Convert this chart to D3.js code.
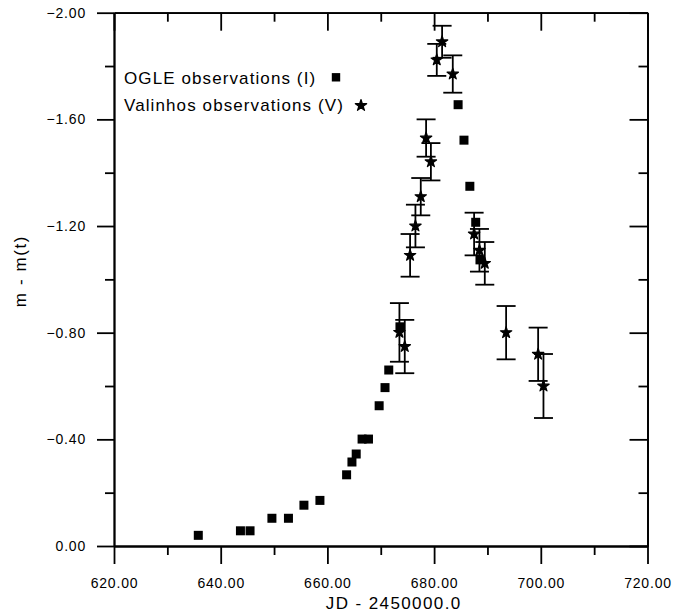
<!DOCTYPE html>
<html>
<head>
<meta charset="utf-8">
<script src="https://cdn.jsdelivr.net/npm/d3@7"></script>
<style>
  body { margin: 0; background: #fff; }
  svg { display: block; }
  text { font-family: "Liberation Sans", Arial, sans-serif; fill: #000; }
</style>
</head>
<body>
<svg id="chart" width="673" height="613"></svg>
<script>
// OGLE photometry (I band): JD - 2450000 and magnitude relative to baseline
const ogleJD  = [635.8, 643.7, 645.5, 649.6, 652.7, 655.6, 658.6, 663.6, 664.6, 665.4, 666.5,
                 667.7, 669.7, 670.8, 671.5, 673.6, 684.5, 685.6, 686.7, 687.8, 688.6];
const ogleMag = [-0.040, -0.057, -0.057, -0.104, -0.104, -0.153, -0.171, -0.267, -0.315, -0.345, -0.401,
                 -0.401, -0.526, -0.594, -0.660, -0.822, -1.655, -1.522, -1.349, -1.214, -1.073];

// Valinhos photometry (V band) with 1-sigma uncertainties
const valJD  = [673.5, 674.5, 675.5, 676.5, 677.5, 678.5, 679.4, 680.5, 681.5, 683.5,
                687.5, 688.5, 689.5, 693.5, 699.5, 700.5];
const valMag = [-0.801, -0.748, -1.090, -1.200, -1.310, -1.530, -1.441, -1.823, -1.891, -1.770,
                -1.170, -1.109, -1.060, -0.800, -0.719, -0.600];
const valErr = [0.11, 0.10, 0.08, 0.08, 0.07, 0.07, 0.07, 0.06, 0.06, 0.07,
                0.08, 0.08, 0.08, 0.10, 0.10, 0.12];

// Tick positions
const xMajor = [620, 640, 660, 680, 700, 720];
const xMinor = [630, 650, 670, 690, 710];
const yMajor = [0, -0.4, -0.8, -1.2, -1.6, -2.0];
const yMinor = [-0.2, -0.6, -1.0, -1.4, -1.8];

const legendLabels = ["OGLE observations (I)", "Valinhos observations (V)"];
const xTitle = "JD - 2450000.0";
const yTitle = "m - m(t)";

const svg = d3.select("#chart");
svg.append("rect").attr("width", 673).attr("height", 613).attr("fill", "#fff");

const plotL = 114, plotR = 647.5, plotT = 12.7, plotB = 546;
const x = d3.scaleLinear().domain([620, 720]).range([plotL, plotR]);
const y = d3.scaleLinear().domain([0, -2]).range([plotB, plotT]);

const fmt = d3.format(".2f");
const SW = 1.8;

function styleAxis(g) {
  g.selectAll("path.domain").attr("stroke", "#000").attr("stroke-width", SW);
  g.selectAll(".tick line").attr("stroke", "#000").attr("stroke-width", SW);
  g.selectAll(".tick text")
    .style("font-family", '"Liberation Sans", Arial, sans-serif')
    .style("font-size", "14px")
    .style("letter-spacing", "0.8px")
    .attr("fill", "#000");
}

// Bottom axis: outward ticks with labels
svg.append("g").attr("transform", `translate(0,${plotB})`)
  .call(d3.axisBottom(x).tickValues(xMajor).tickSize(18).tickSizeOuter(0).tickPadding(14).tickFormat(fmt))
  .call(styleAxis);
svg.append("g").attr("transform", `translate(0,${plotB})`)
  .call(d3.axisBottom(x).tickValues(xMinor).tickSize(9).tickSizeOuter(0).tickFormat(""))
  .call(styleAxis);

// Left axis: outward ticks with labels
svg.append("g").attr("transform", `translate(${plotL},0)`)
  .call(d3.axisLeft(y).tickValues(yMajor).tickSize(17).tickSizeOuter(0).tickPadding(11).tickFormat(fmt))
  .call(styleAxis);
svg.append("g").attr("transform", `translate(${plotL},0)`)
  .call(d3.axisLeft(y).tickValues(yMinor).tickSize(9).tickSizeOuter(0).tickFormat(""))
  .call(styleAxis);

// Top axis: inward ticks, no labels
svg.append("g").attr("transform", `translate(0,${plotT})`)
  .call(d3.axisBottom(x).tickValues(xMajor).tickSize(18).tickSizeOuter(0).tickFormat(""))
  .call(styleAxis);
svg.append("g").attr("transform", `translate(0,${plotT})`)
  .call(d3.axisBottom(x).tickValues(xMinor).tickSize(9).tickSizeOuter(0).tickFormat(""))
  .call(styleAxis);

// Right axis: inward ticks, no labels
svg.append("g").attr("transform", `translate(${plotR},0)`)
  .call(d3.axisLeft(y).tickValues(yMajor).tickSize(18).tickSizeOuter(0).tickFormat(""))
  .call(styleAxis);
svg.append("g").attr("transform", `translate(${plotR},0)`)
  .call(d3.axisLeft(y).tickValues(yMinor).tickSize(9).tickSizeOuter(0).tickFormat(""))
  .call(styleAxis);

// Axis titles
svg.append("text")
  .attr("x", (plotL + plotR) / 2 + 13).attr("y", 609)
  .attr("text-anchor", "middle")
  .style("font-size", "17px").style("letter-spacing", "1.4px")
  .text(xTitle);
svg.append("text")
  .attr("transform", "translate(26,271) rotate(-90)")
  .attr("text-anchor", "middle")
  .style("font-size", "17px").style("letter-spacing", "1.6px")
  .text(yTitle);

// Valinhos error bars
const CAP = 9.5;
const valData = valJD.map((d, i) => ({ jd: d, mag: valMag[i], err: valErr[i] }));
const eb = svg.append("g").attr("stroke", "#000").attr("stroke-width", SW).attr("fill", "none");
valData.forEach(d => {
  const cx = x(d.jd), y1 = y(d.mag - d.err), y2 = y(d.mag + d.err);
  eb.append("line").attr("x1", cx).attr("x2", cx).attr("y1", y1).attr("y2", y2);
  eb.append("line").attr("x1", cx - CAP).attr("x2", cx + CAP).attr("y1", y1).attr("y2", y1);
  eb.append("line").attr("x1", cx - CAP).attr("x2", cx + CAP).attr("y1", y2).attr("y2", y2);
});

// OGLE squares
const SQ = 9;
svg.append("g").selectAll("rect")
  .data(ogleJD.map((d, i) => ({ jd: d, mag: ogleMag[i] })))
  .join("rect")
  .attr("x", d => x(d.jd) - SQ / 2).attr("y", d => y(d.mag) - SQ / 2)
  .attr("width", SQ).attr("height", SQ).attr("fill", "#000");

// Valinhos stars (slightly stroked so they read as bold filled stars)
const star = d3.symbol().type(d3.symbolStar).size(40);
svg.append("g").selectAll("path")
  .data(valData)
  .join("path")
  .attr("transform", d => `translate(${x(d.jd)},${y(d.mag)})`)
  .attr("d", star).attr("fill", "#000")
  .attr("stroke", "#000").attr("stroke-width", 1.2).attr("stroke-linejoin", "round");

// Legend
const lg = svg.append("g").style("font-size", "17px").style("letter-spacing", "1.1px");
lg.append("text").attr("x", 124).attr("y", 83.5).text(legendLabels[0]);
lg.append("text").attr("x", 124).attr("y", 110.5).text(legendLabels[1]);
lg.append("rect").attr("x", 336 - 4.2).attr("y", 77.3 - 4.2).attr("width", 8.4).attr("height", 8.4).attr("fill", "#000");
lg.append("path").attr("transform", "translate(361,105.5)").attr("d", star).attr("fill", "#000")
  .attr("stroke", "#000").attr("stroke-width", 1.2).attr("stroke-linejoin", "round");
</script>
</body>
</html>
